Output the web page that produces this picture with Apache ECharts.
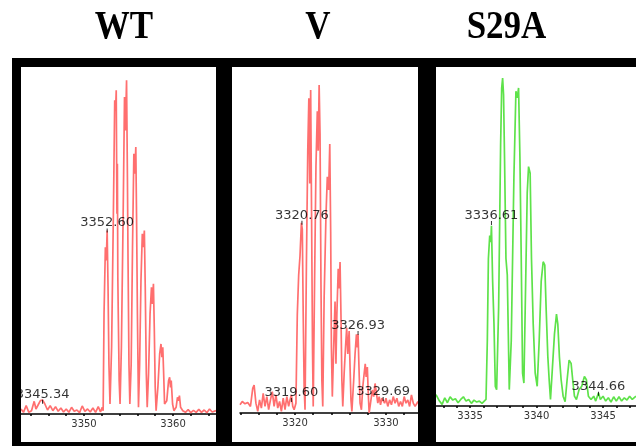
<!DOCTYPE html>
<html>
<head>
<meta charset="utf-8">
<script src="https://cdn.jsdelivr.net/npm/echarts@6/dist/echarts.min.js"></script>
<style>
html,body{margin:0;padding:0;background:#fff;}
#c{width:636px;height:446px;}
</style>
</head>
<body>
<div id="c"></div>
<script>
// ---------- panel titles ----------
const titles = ["WT", "V", "S29A"];

// ---------- WT spectrum (m/z, relative intensity) ----------
const wtMz = [3342.92,3343.2,3343.5,3343.8,3344.1,3344.4,3344.6,3344.9,3345.1,3345.34,3345.6,3345.9,3346.2,3346.5,3346.8,3347.1,3347.4,3347.7,3348.0,3348.3,3348.6,3348.9,3349.2,3349.5,3349.8,3350.1,3350.4,3350.7,3351.0,3351.3,3351.6,3351.85,3352.05,3352.15,
  3352.25,3352.4,3352.5,3352.6,3352.7,3352.8,3352.92,
  3353.1,3353.3,3353.45,3353.55,3353.62,3353.7,3353.75,3353.8,3353.85,3353.95,3354.05,
  3354.2,3354.4,3354.55,3354.65,3354.78,3354.88,3354.95,3355.05,3355.15,
  3355.3,3355.45,3355.6,3355.7,3355.82,3355.9,3356.0,3356.12,
  3356.25,3356.4,3356.55,3356.65,3356.78,3356.88,3357.0,3357.1,
  3357.25,3357.42,3357.58,3357.68,3357.8,3357.9,3358.0,3358.1,
  3358.3,3358.5,3358.65,3358.75,3358.85,3358.95,3359.05,
  3359.3,3359.5,3359.62,3359.72,3359.8,3359.95,3360.1,
  3360.35,3360.5,3360.62,3360.72,3360.85,
  3361.1,3361.4,3361.7,3362.0,3362.3,3362.6,3362.9,3363.2,3363.5,3363.8,3364.1,3364.4,3364.83];
const wtInt = [1.5,0.5,2.5,0.5,1.0,3.8,1.5,3.0,4.0,4.2,3.0,1.2,2.5,1.0,2.2,0.8,1.8,0.6,1.5,0.5,2.0,0.8,1.2,0.4,2.4,0.8,1.5,0.6,1.8,0.5,2.2,0.6,2.0,1.0,
  30,50,46,55,38,15,3,
  20,60,94,91,97,60,75,41,30,10,3,
  20,60,95,85,100,70,45,15,3,
  15,50,78,72,80,60,30,2,
  15,40,54,50,55,38,12,2,
  12,30,38,33,39,25,8,1,
  8,18,21,17,20,12,3,
  4,10,11,8,10,3,1,
  2,5,4,5.5,2,
  1.0,0.5,1.3,0.4,1.1,0.5,1.4,0.5,1.2,0.4,1.5,0.6,1.0];
const wtLabelMz = [3345.34, 3352.60];
const wtLabelInt = [3.7, 55];
const wtTicks = [3344,3346,3348,3350,3352,3354,3356,3358,3360,3362,3364];
const wtTickLabels = [3350, 3360];

// ---------- V spectrum ----------
const vMz = [3313.95,3314.2,3314.5,3314.8,3315.1,3315.35,3315.5,3315.7,3315.9,3316.1,3316.3,3316.5,3316.7,3316.9,3317.1,3317.3,3317.5,3317.7,3317.9,3318.1,3318.3,3318.5,3318.7,3318.9,3319.1,3319.3,3319.45,3319.6,3319.75,3319.9,
  3320.1,3320.25,3320.4,3320.55,3320.7,3320.8,3320.9,3321.0,3321.1,
  3321.25,3321.4,3321.52,3321.62,3321.72,3321.82,3321.92,3322.0,
  3322.15,3322.3,3322.45,3322.55,3322.65,3322.75,3322.85,3322.95,3323.05,
  3323.2,3323.4,3323.55,3323.7,3323.82,3323.92,3324.0,3324.1,
  3324.25,3324.4,3324.5,3324.6,3324.75,3324.85,3324.95,3325.05,3325.15,3325.25,
  3325.4,3325.55,3325.68,3325.8,3325.95,3326.05,3326.15,3326.25,
  3326.45,3326.6,3326.75,3326.85,3326.93,3327.05,3327.15,3327.3,
  3327.45,3327.6,3327.72,3327.82,3327.95,3328.05,3328.15,
  3328.3,3328.5,3328.65,3328.8,3328.95,3329.1,3329.25,3329.4,3329.55,3329.69,3329.85,
  3330.0,3330.2,3330.4,3330.6,3330.8,3331.0,3331.2,3331.4,3331.6,3331.8,3332.0,3332.2,3332.4,3332.6,3332.8,3333.0,3333.2,3333.52];
const vInt = [2.5,3.5,2.8,3.2,2.0,7.5,8.5,3.0,0.5,4.0,1.5,6.0,2.0,5.0,1.0,4.0,6.5,2.0,5.5,1.5,3.5,0.5,4.5,1.0,5.0,2.0,4.0,5.5,2.0,1.0,
  3,30,42,48,58,56,30,8,1,
  45,80,96,70,98.5,60,20,2,
  40,75,92,80,100,85,40,10,2,
  35,60,72,68,82,55,20,5,
  20,34,15,30,44,38,46,30,10,2,
  12,20,26,18,25,14,4,0.5,
  10,18,24,20,24,12,3,1,
  8,12,15,11,14,6,0,
  3,7,5,9,6,3,5,2.5,4.5,5,3,
  4.5,2,4,2.5,5,3,4.5,2,3.5,2,5,3,4,2,5.5,3,2,3.5];
const vLabelMz = [3319.60, 3320.76, 3326.93, 3329.69];
const vLabelInt = [4.0, 58, 24.4, 4.3];
const vTicks = [3314,3316,3318,3320,3322,3324,3326,3328,3330,3332];
const vTickLabels = [3320, 3330];

// ---------- S29A spectrum ----------
const sMz = [3332.44,3332.7,3332.9,3333.1,3333.3,3333.5,3333.7,3333.9,3334.1,3334.3,3334.5,3334.7,3334.9,3335.1,3335.3,3335.5,3335.7,3335.9,3336.05,3336.2,
  3336.3,3336.38,3336.48,3336.56,3336.61,3336.7,3336.8,3336.9,3337.0,
  3337.15,3337.3,3337.38,3337.45,3337.52,3337.6,3337.7,3337.8,3337.95,
  3338.1,3338.3,3338.45,3338.55,3338.65,3338.75,3338.85,3338.95,3339.05,
  3339.15,3339.3,3339.4,3339.52,3339.62,3339.75,3339.9,3340.05,
  3340.2,3340.35,3340.5,3340.62,3340.72,3340.85,3340.95,3341.05,
  3341.2,3341.35,3341.5,3341.6,3341.72,3341.85,3342.0,3342.15,
  3342.3,3342.45,3342.6,3342.72,3342.85,3343.0,
  3343.2,3343.4,3343.6,3343.75,3343.9,3344.1,3344.3,3344.45,3344.66,3344.8,
  3345.0,3345.2,3345.4,3345.6,3345.8,3346.0,3346.2,3346.4,3346.6,3346.8,3347.0,3347.2,3347.48];
const sInt = [3.5,1.5,0.5,2.5,1.0,2.8,1.8,2.2,1.0,2.0,2.8,1.5,2.0,0.8,1.8,1.2,1.5,0.8,0.3,2.0,
  20,45,52,50,55,38,25,6,5,
  30,80,97,100,95,74,45,40,5,
  20,70,96,94,97,76,45,10,7,
  30,65,73,71,45,25,10,6,
  20,38,44,43,30,15,8,2,
  12,22,28,25,15,8,3,1.3,
  8,14,13,8,3,2,
  5,6,9,8,3,2,3,1.5,4,2,
  3,1.5,2.5,1.2,2.8,1.5,2.8,1.5,2.5,1.8,3.0,2.0,3.0];
const sLabelMz = [3336.61, 3344.66];
const sLabelInt = [55.8, 3.7];
const sTicks = [3333,3334,3335,3336,3337,3338,3339,3340,3341,3342,3343,3344,3345,3346,3347];
const sTickLabels = [3335, 3340, 3345];

// ---------- build chart ----------
const RED = '#ff6f6f', GREEN = '#5ee24a';
const pairs = (a, b) => a.map((v, i) => [v, b[i]]);

const panels = [
  {mz: wtMz, it: wtInt, lm: wtLabelMz, li: wtLabelInt, ticks: wtTicks, tl: wtTickLabels, color: RED,
   grid: {left: 21, top: 67, width: 195, height: 347}, xmin: 3342.92, xmax: 3364.83, ymax: 104},
  {mz: vMz, it: vInt, lm: vLabelMz, li: vLabelInt, ticks: vTicks, tl: vTickLabels, color: RED,
   grid: {left: 240, top: 67, width: 178, height: 346}, xmin: 3313.95, xmax: 3333.52, ymax: 105.5},
  {mz: sMz, it: sInt, lm: sLabelMz, li: sLabelInt, ticks: sTicks, tl: sTickLabels, color: GREEN,
   grid: {left: 436, top: 67, width: 200, height: 339}, xmin: 3332.44, xmax: 3347.48, ymax: 103.4}
];

const grid = [], xAxis = [], yAxis = [], series = [];
panels.forEach((p, i) => {
  grid.push(Object.assign({show: false, outerBoundsMode: 'none', containLabel: false}, p.grid));
  xAxis.push({
    gridIndex: i, type: 'value', min: p.xmin, max: p.xmax,
    axisLine: {show: true, onZero: false, lineStyle: {color: '#000', width: 1.5}},
    axisTick: {show: true, customValues: p.ticks, length: 2, lineStyle: {color: '#000', width: 1.5}},
    axisLabel: {show: true, customValues: p.tl, margin: 5, fontFamily: 'DejaVu Sans', fontSize: 10, color: '#333',
                formatter: v => String(v)},
    splitLine: {show: false}
  });
  yAxis.push({gridIndex: i, type: 'value', min: 0, max: p.ymax, show: false, splitLine: {show: false}});
  series.push({
    type: 'line', xAxisIndex: i, yAxisIndex: i, data: pairs(p.mz, p.it),
    showSymbol: false, symbol: 'none', smooth: false, clip: true,
    lineStyle: {color: p.color, width: 1.7}, itemStyle: {color: p.color}, silent: true, z: 3
  });
  series.push({
    type: 'scatter', xAxisIndex: i, yAxisIndex: i, data: pairs(p.lm, p.li),
    symbol: 'rect', symbolSize: [1, 4], itemStyle: {color: '#000'}, silent: true, z: 5,
    label: {show: true, position: 'top', distance: -1, color: '#000', fontFamily: 'DejaVu Sans', fontSize: 13,
            formatter: d => d.value[0].toFixed(2)}
  });
});

const titleX = [124, 318, 506.5];
const graphic = [
  {type: 'rect', shape: {x: 12, y: 58, width: 624, height: 388}, style: {fill: '#000'}, z: -3},
  {type: 'rect', shape: {x: 21, y: 67, width: 195, height: 375}, style: {fill: '#fff'}, z: -2},
  {type: 'rect', shape: {x: 232, y: 67, width: 186, height: 375}, style: {fill: '#fff'}, z: -2},
  {type: 'rect', shape: {x: 436, y: 67, width: 200, height: 375}, style: {fill: '#fff'}, z: -2},
  // frame bars on top to clip overflowing labels
  {type: 'rect', shape: {x: 12, y: 58, width: 9, height: 388}, style: {fill: '#000'}, z: 100},
  {type: 'rect', shape: {x: 216, y: 58, width: 16, height: 388}, style: {fill: '#000'}, z: 100},
  {type: 'rect', shape: {x: 418, y: 58, width: 18, height: 388}, style: {fill: '#000'}, z: 100}
];
titles.forEach((t, i) => {
  graphic.push({
    type: 'text', x: titleX[i], y: 28, scaleY: 1.15, z: 100,
    style: {text: t, fill: '#000', font: 'bold 35px "Liberation Serif", "Times New Roman", serif',
            align: 'center', verticalAlign: 'middle'}
  });
});

const chart = echarts.init(document.getElementById('c'), null, {renderer: 'canvas'});
chart.setOption({
  backgroundColor: '#fff',
  animation: false,
  grid, xAxis, yAxis, series, graphic
});
</script>
</body>
</html>
